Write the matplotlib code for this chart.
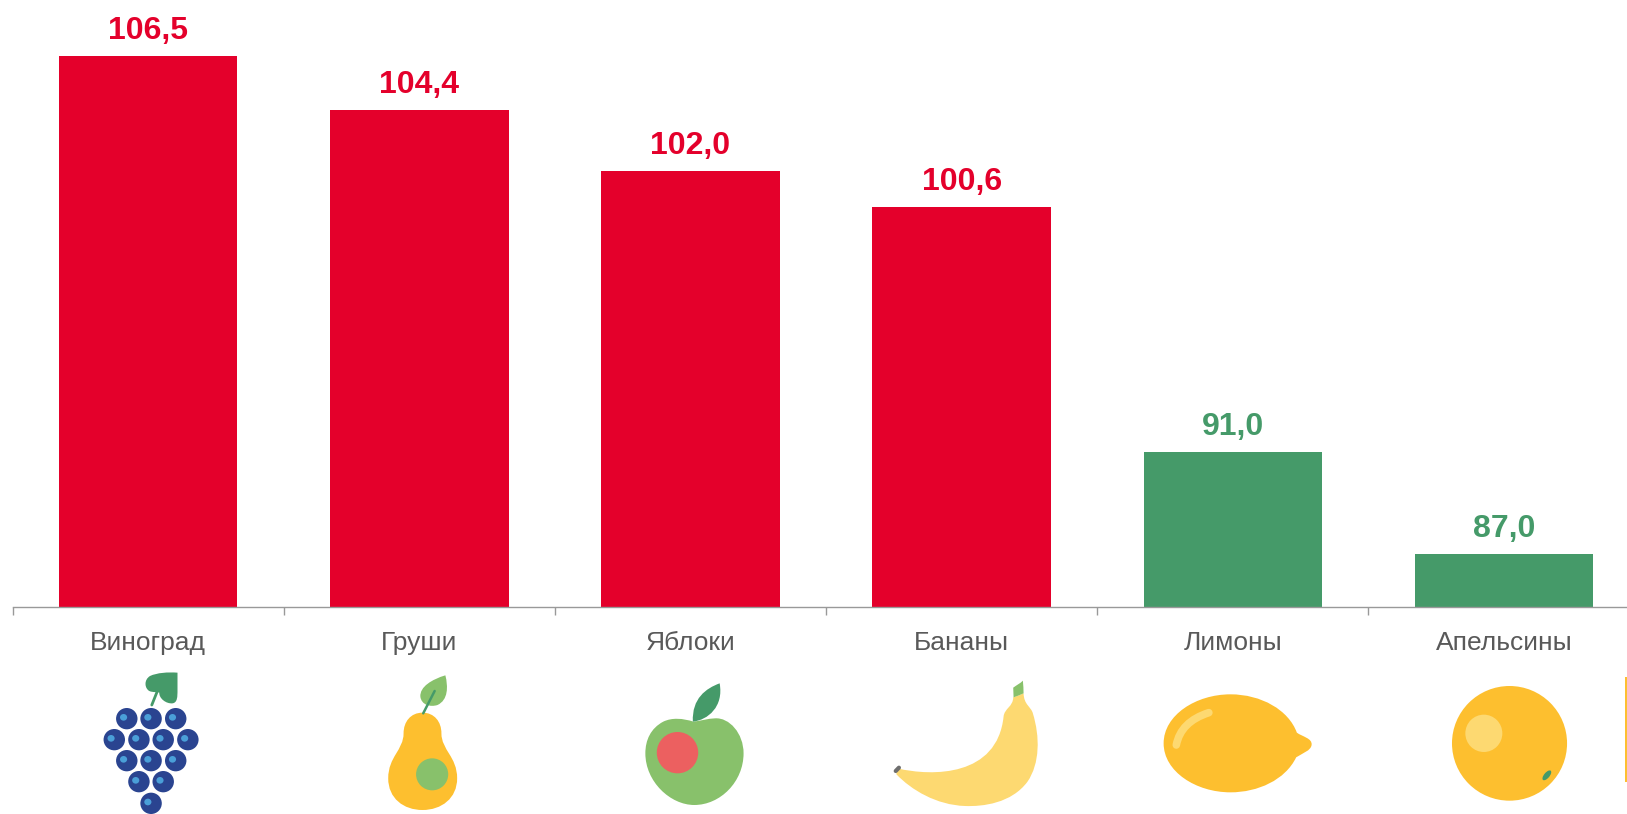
import matplotlib.pyplot as plt
from matplotlib.patches import Ellipse, PathPatch
from matplotlib.path import Path

plt.rcParams['font.family'] = ['Liberation Sans', 'DejaVu Sans']

categories = ["Виноград", "Груши", "Яблоки", "Бананы", "Лимоны", "Апельсины"]
values = [106.5, 104.4, 102.0, 100.6, 91.0, 87.0]
value_labels = ["106,5", "104,4", "102,0", "100,6", "91,0", "87,0"]

RED = "#E4002B"
GREEN = "#459A69"
LEAF = "#88C16B"
AMBER = "#FDBF2F"
PALE = "#FDD971"
BLUE = "#2A4490"
SKY = "#4A9FD8"
colors = [RED, RED, RED, RED, GREEN, GREEN]

W, H = 1627, 814
fig = plt.figure(figsize=(W / 100, H / 100), dpi=100, facecolor="white")

# main chart, pixel box
axis_y = 607.0
cat_w = 271.2
y_min = 84.93
y_scale = 25.55
ax = fig.add_axes([12.5 / W, (H - axis_y) / H, (W - 12.5) / W, axis_y / H])
ax.bar(range(6), values, width=0.658, color=colors)
for i, (v, lab) in enumerate(zip(values, value_labels)):
    ax.annotate(lab, (i, v), xytext=(0, 7), textcoords="offset points", ha="center",
                va="bottom", fontsize=23, fontweight="bold", color=colors[i], annotation_clip=False)

for s in ["top", "left", "right"]:
    ax.spines[s].set_visible(False)
ax.spines["bottom"].set_color("#999999")
ax.spines["bottom"].set_linewidth(1)
ax.set_yticks([])
ax.set_xticks(range(6))
ax.set_xticklabels(categories, fontsize=19, color="#595959")
ax.tick_params(axis="x", which="major", length=0, pad=17)
ax.set_xticks([i - 0.5 for i in range(6)], minor=True)
ax.tick_params(axis="x", which="minor", length=5.5, width=1, color="#999999")
ax.set_xlim(-0.5, -0.5 + (W - 12.5) / cat_w)
ax.set_ylim(y_min, y_min + axis_y / y_scale)

# overlay for the fruit pictures, in picture pixels
ov = fig.add_axes([0, 0, 1, 1], facecolor="none")
ov.set_xlim(0, W)
ov.set_ylim(H, 0)
ov.axis("off")
SY = 3.0


def shape(ox, s, start, curves, color):
    # start + list of (c1, c2, end) in zoomed crop coordinates
    conv = lambda p: (ox + p[0] / s, 590 + p[1] / SY)
    verts = [conv(start)]
    codes = [Path.MOVETO]
    for c in curves:
        for p in c:
            verts.append(conv(p))
            codes.append(Path.CURVE4)
    ov.add_patch(PathPatch(Path(verts, codes), fc=color, ec="none", lw=0))


def line(ox, s, xs, ys, color, lw):
    ov.plot([ox + x / s for x in xs], [590 + y / SY for y in ys], color=color, lw=lw,
            solid_capstyle="round")


def ell(ox, s, x, y, rx, ry, color, angle=0):
    ov.add_patch(Ellipse((ox + x / s, 590 + y / SY), 2 * rx / s, 2 * ry / SY, angle=angle, fc=color, ec="none"))


# grapes
s = 2.8
berries = [(355, 386), (423, 386), (492, 386), (320, 449), (389, 449), (457, 449), (526, 449),
           (355, 512), (423, 512), (492, 512), (389, 575), (457, 575), (423, 640)]
for x, y in berries:
    ell(0, s, x, y, 30, 32, BLUE)
    ell(0, s, x - 9, y - 4, 10, 10, SKY)
line(0, s, [425, 440], [345, 305], GREEN, 2)
shape(0, s, (497, 248), [((470, 246), (440, 248), (420, 258)), ((402, 270), (405, 295), (418, 303)),
                         ((428, 308), (440, 305), (446, 308)), ((445, 325), (465, 342), (483, 340)),
                         ((497, 338), (497, 320), (497, 300)), ((497, 280), (497, 260), (497, 248))], GREEN)

# pear
shape(0, s, (1183, 368), [((1150, 368), (1130, 395), (1130, 430)), ((1130, 480), (1087, 500), (1087, 565)),
                          ((1087, 625), (1130, 660), (1183, 660)), ((1236, 660), (1280, 625), (1280, 565)),
                          ((1280, 500), (1236, 480), (1236, 430)), ((1236, 395), (1216, 368), (1183, 368))], AMBER)
ell(0, s, 1210, 553, 45, 48, LEAF)
shape(0, s, (1247, 256), [((1210, 268), (1175, 290), (1177, 320)), ((1180, 345), (1205, 352), (1225, 345)),
                          ((1255, 330), (1255, 290), (1247, 256))], LEAF)
line(0, s, [1185, 1217], [370, 303], GREEN, 1.8)

# apple
ox = 540
shape(ox, s, (430, 395), [((400, 385), (370, 382), (345, 395)), ((310, 415), (295, 450), (295, 490)),
                          ((295, 575), (365, 645), (432, 645)), ((505, 645), (570, 575), (570, 490)),
                          ((570, 430), (530, 382), (490, 385)), ((470, 386), (450, 392), (430, 395))], LEAF)
ell(ox, s, 385, 488, 58, 62, "#EC6060")
shape(ox, s, (503, 280), [((465, 295), (425, 325), (428, 395)), ((470, 390), (515, 350), (503, 280))], GREEN)

# banana
shape(ox, s, (1000, 535), [((1100, 560), (1280, 560), (1298, 380)), ((1300, 355), (1325, 350), (1325, 322)),
                           ((1335, 318), (1345, 315), (1354, 310)), ((1355, 345), (1375, 350), (1380, 370)),
                           ((1400, 440), (1400, 520), (1365, 575)), ((1320, 640), (1240, 650), (1190, 648)),
                           ((1110, 645), (1040, 600), (998, 553)), ((998, 548), (998, 540), (1000, 535))], PALE)
shape(ox, s, (1325, 293), [((1335, 285), (1345, 280), (1352, 272)), ((1353, 285), (1354, 298), (1354, 310)),
                           ((1345, 315), (1335, 318), (1326, 322)), ((1326, 312), (1325, 302), (1325, 293))], LEAF)
line(ox, s, [996, 1005], [543, 533], "#6E6E6E", 3)

# lemon
ox, s = 1090, 2.92
shape(ox, s, (215, 460), [((215, 375), (310, 313), (410, 313)), ((500, 313), (580, 360), (604, 428)),
                          ((620, 440), (650, 445), (647, 465)), ((645, 482), (620, 490), (602, 502)),
                          ((570, 570), (490, 607), (410, 607)), ((310, 607), (215, 545), (215, 460))], AMBER)
ov.add_patch(PathPatch(Path([(ox + 252 / s, 590 + 465 / SY), (ox + 265 / s, 590 + 395 / SY),
                             (ox + 347 / s, 590 + 368 / SY)], [Path.MOVETO, Path.CURVE3, Path.CURVE3]),
                       fc="none", ec=PALE, lw=5.5, capstyle="round"))

# orange
ell(ox, s, 1225, 460, 168, 172, AMBER)
ell(ox, s, 1150, 430, 54, 56, PALE)
ell(ox, s, 1334, 556, 8, 18, GREEN, angle=40)
ov.add_patch(plt.Rectangle((ox + 1562 / s, 590 + 262 / SY), 2.5, 313 / SY, fc=AMBER, ec="none"))

fig.savefig("out.png", dpi=100)
